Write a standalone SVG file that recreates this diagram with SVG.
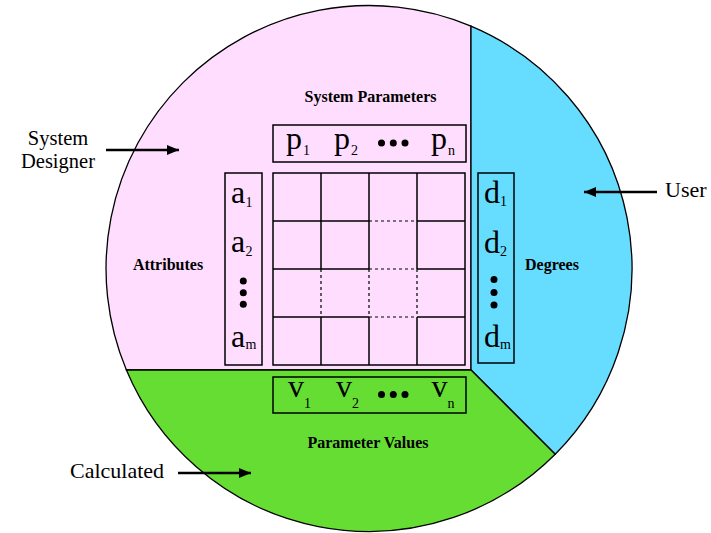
<svg xmlns="http://www.w3.org/2000/svg" width="711" height="533" viewBox="0 0 711 533">
<style>
.reg{stroke:#000;stroke-width:1.3}
.box{fill:none;stroke:#000;stroke-width:1.5}
.g{stroke:#000;stroke-width:1.5;fill:none}
.d{stroke:#000;stroke-width:1.2;stroke-dasharray:3,3;fill:none}
.big{font-family:"Liberation Serif",serif;font-size:32px;fill:#000}
.sub{font-family:"Liberation Serif",serif;font-size:14px;fill:#000}
.lbl{font-family:"Liberation Serif",serif;font-size:16px;font-weight:bold;fill:#000;text-anchor:middle}
.out{font-family:"Liberation Serif",serif;font-size:22px;fill:#000}
.sd{font-family:"Liberation Serif",serif;font-size:20.5px;fill:#000;text-anchor:middle}
.arr{stroke:#000;stroke-width:2.5;fill:none;marker-end:url(#ah)}
</style>
<defs>
<marker id="ah" markerWidth="12" markerHeight="10" refX="12" refY="5" orient="auto" markerUnits="userSpaceOnUse">
<path d="M0,0 L12,5 L0,10 Z" fill="#000"/>
</marker>
</defs>
<g id="regions">
<path id="designer" class="reg" fill="#ffddff" d="M126.4,370 A263,263 0 0 1 471,26.1 L471,370 Z"/>
<path id="user" class="reg" fill="#66ddff" d="M471,26.1 A263,263 0 0 1 555.2,454.2 L471,370 Z"/>
<path id="calculated" class="reg" fill="#66dd33" d="M126.4,370 L471,370 L555.2,454.2 A263,263 0 0 1 126.4,370 Z"/>
</g>
<g id="grid">
<rect class="g" x="273" y="173" width="192" height="192"/>
<path class="g" d="M321,173 V269 M321,317 V365 M369,173 V269 M369,317 V365 M417,173 V269 M417,317 V365 M273,221 H369 M417,221 H465 M273,269 H369 M417,269 H465 M273,317 H369 M417,317 H465"/>
<path class="d" d="M369,221 H417 M369,269 H417 M369,317 H417 M321,269 V317 M369,269 V317 M417,269 V317"/>
</g>
<g id="params">
<rect class="box" x="273" y="125" width="193" height="37"/>
<text class="big" x="286" y="149">p</text><text class="sub" x="303" y="155">1</text>
<text class="big" x="334" y="149">p</text><text class="sub" x="351" y="155">2</text>
<circle cx="381.5" cy="143" r="3.5"/><circle cx="393.3" cy="143" r="3.5"/><circle cx="405" cy="143" r="3.5"/>
<text class="big" x="431" y="149">p</text><text class="sub" x="448" y="155">n</text>
</g>
<g id="values">
<rect class="box" x="273" y="377" width="193" height="36"/>
<text class="big" x="288" y="397">v</text><text class="sub" x="304" y="408">1</text>
<text class="big" x="336" y="397">v</text><text class="sub" x="352" y="408">2</text>
<circle cx="381.5" cy="394.5" r="3.5"/><circle cx="393.3" cy="394.5" r="3.5"/><circle cx="405" cy="394.5" r="3.5"/>
<text class="big" x="431.5" y="397">v</text><text class="sub" x="447.5" y="408">n</text>
</g>
<g id="attributes">
<rect class="box" x="225" y="173" width="37" height="192"/>
<text class="big" x="231" y="203">a</text><text class="sub" x="245.5" y="207">1</text>
<text class="big" x="231" y="252">a</text><text class="sub" x="245.5" y="256">2</text>
<circle cx="243.3" cy="281" r="3.5"/><circle cx="243.3" cy="292.7" r="3.5"/><circle cx="243.3" cy="304.3" r="3.5"/>
<text class="big" x="231" y="347">a</text><text class="sub" x="245.5" y="349">m</text>
</g>
<g id="degrees">
<rect class="box" x="478" y="173" width="36" height="190"/>
<text class="big" x="484" y="203">d</text><text class="sub" x="500" y="206">1</text>
<text class="big" x="484" y="252.5">d</text><text class="sub" x="500" y="256">2</text>
<circle cx="494" cy="279.5" r="3.5"/><circle cx="494" cy="292.5" r="3.5"/><circle cx="494" cy="305" r="3.5"/>
<text class="big" x="484" y="347">d</text><text class="sub" x="500" y="349">m</text>
</g>
<g id="labels">
<text class="lbl" x="370.5" y="102">System Parameters</text>
<text class="lbl" x="368" y="448">Parameter Values</text>
<text class="lbl" x="168" y="270">Attributes</text>
<text class="lbl" x="552" y="270">Degrees</text>
</g>
<g id="outside">
<text class="sd" x="58" y="144.5">System</text>
<text class="sd" x="58" y="167.5">Designer</text>
<text class="out" x="665" y="197">User</text>
<text class="out" x="70" y="478">Calculated</text>
</g>
<g id="connectors">
<line class="arr" x1="106" y1="150" x2="179" y2="150"/>
<line class="arr" x1="657" y1="192" x2="584" y2="192"/>
<line class="arr" x1="178" y1="473" x2="251" y2="473"/>
</g>
</svg>
